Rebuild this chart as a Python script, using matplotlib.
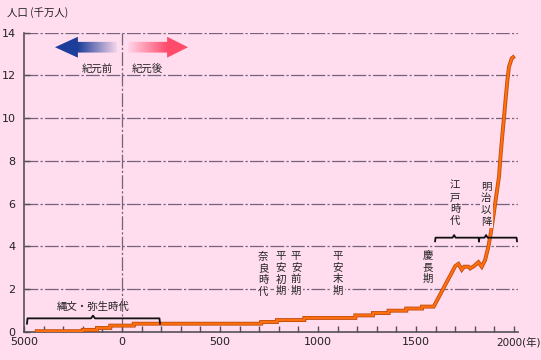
import numpy as np
import matplotlib
matplotlib.use("Agg")
import matplotlib.pyplot as plt
from matplotlib.patches import Polygon

plt.rcParams['font.family'] = ['Noto Sans CJK JP', 'DejaVu Sans']

# ---- data (years: negative = BC; population in 10 million people) ----
step_years = [-4350, -2000, -1280, -600, 60, 710, 790, 930, 1190, 1280, 1360, 1450, 1530, 1590]
step_values = [0.02, 0.08, 0.17, 0.28, 0.37, 0.45, 0.54, 0.64, 0.76, 0.87, 0.98, 1.08, 1.17, 1.17]
modern_years = [1700, 1716, 1733, 1745, 1767, 1776, 1796, 1818, 1835, 1852, 1869, 1881,
                1894, 1911, 1923, 1932, 1940, 1949, 1958, 1966, 1974, 1988, 1995]
modern_values = [3.07, 3.17, 2.90, 3.04, 3.04, 2.96, 3.07, 3.25, 3.04, 3.35, 3.98, 4.60,
                 5.38, 6.48, 7.25, 8.35, 9.20, 10.07, 11.00, 11.78, 12.40, 12.80, 12.85]

xtick_years = [-5000, 0, 500, 1000, 1500, 2000]
xtick_labels = ['5000', '0', '500', '1000', '1500', '']
last_tick_label = '2000(年)'
ytick_values = [0, 2, 4, 6, 8, 10, 12, 14]

era_labels = ['奈良時代', '平安初期', '平安前期', '平安末期', '慶長期', '江戸時代', '明治以降']
era_years = [719, 811, 888, 1102, 1561, 1699, 1857]
era_heights = [2.69, 2.72, 2.72, 2.72, 3.03, 6.0, 5.97]

BG = '#ffdcee'
GRID = '#74647a'


def to_u(year):
    y = np.asarray(year, dtype=float)
    return np.where(y < 0, y / 10.0, y)


fig = plt.figure(figsize=(5.41, 3.60), dpi=100)
fig.patch.set_facecolor(BG)
ax = fig.add_axes([24 / 541, 1 - 331.6 / 360, (518 - 24) / 541, (331.6 - 32.7) / 360])
ax.set_facecolor(BG)

# grid lines
for v in ytick_values[1:]:
    ax.plot([-500, 2020], [v, v], color=GRID, lw=0.9, dashes=(11, 1.8, 1.8, 1.8), zorder=1)
ax.plot([0, 0], [0, 14], color=GRID, lw=0.9, dashes=(11, 1.8, 1.8, 1.8), zorder=1)

# population line
sx = to_u(step_years)
sv = np.asarray(step_values)
xs = [sx[0]]
ys = [sv[0]]
for i in range(1, len(sx)):
    xs += [sx[i], sx[i]]
    ys += [sv[i - 1], sv[i]]
xs = np.concatenate([xs, to_u(modern_years)])
ys = np.concatenate([ys, modern_values])
ax.plot(xs, ys, color='#c04c0c', lw=2.8, zorder=4, solid_joinstyle='miter')
ax.plot(xs, ys, color='#ff6f10', lw=1.6, zorder=5, solid_joinstyle='miter')

# axes styling
ax.set_xlim(-500, 2020)
ax.set_ylim(0, 14)
for s in ['top', 'right']:
    ax.spines[s].set_visible(False)
for s in ['left', 'bottom']:
    ax.spines[s].set_color('#555055')
    ax.spines[s].set_linewidth(1.2)
ax.set_xticks(to_u(xtick_years))
ax.set_xticklabels(xtick_labels)
ax.set_xticks(np.arange(-500, 2001, 100), minor=True)
ax.set_yticks(ytick_values)
ax.set_yticklabels([str(v) for v in ytick_values])
ax.tick_params(axis='both', which='both', direction='in', length=4, width=1, color='#555055',
               labelsize=8, labelcolor='#222222')
ax.tick_params(axis='x', pad=4)
ax.tick_params(axis='y', pad=6)
for lab in ax.get_xticklabels() + ax.get_yticklabels():
    lab.set_family(['DejaVu Sans', 'Noto Sans CJK JP'])

# last tick label "2000(年)" placed as in the reference
ax.annotate(last_tick_label, xy=(to_u([2000])[0], 0), xycoords=('data', 'axes fraction'),
            xytext=(-18, -11), textcoords='offset pixels', ha='left', va='center',
            fontsize=7.5, color='#222222', family=['DejaVu Sans', 'Noto Sans CJK JP'],
            annotation_clip=False)


# gradient arrows
def gradient_arrow(tip, base, tail, yc, shaft_h, head_h, rgb, alpha_tip, alpha_tail):
    verts = [(tip, yc), (base, yc + head_h / 2), (base, yc + shaft_h / 2), (tail, yc + shaft_h / 2),
             (tail, yc - shaft_h / 2), (base, yc - shaft_h / 2), (base, yc - head_h / 2)]
    poly = Polygon(verts, closed=True, facecolor='none', edgecolor='none')
    ax.add_patch(poly)
    x0, x1 = min(tip, tail), max(tip, tail)
    n = 200
    xx = np.linspace(x0, x1, n)
    f = np.abs(xx - tip) / abs(tail - tip)
    fb = abs(base - tip) / abs(tail - tip)
    a = np.where(f <= fb, alpha_tip, alpha_tip + (alpha_tail - alpha_tip) * (f - fb) / (1 - fb))
    img = np.zeros((2, n, 4))
    img[..., 0] = rgb[0]
    img[..., 1] = rgb[1]
    img[..., 2] = rgb[2]
    img[..., 3] = a
    im = ax.imshow(img, extent=[x0, x1, yc - head_h / 2, yc + head_h / 2], aspect='auto',
                   interpolation='bilinear', zorder=3)
    im.set_clip_path(poly)


gradient_arrow(-342, -225, -26, 13.32, 0.5, 0.98, (0.11, 0.24, 0.60), 1.0, 0.05)
gradient_arrow(337, 230, 31, 13.32, 0.5, 0.98, (1.0, 0.30, 0.42), 1.0, 0.05)
ax.set_xlim(-500, 2020)
ax.set_ylim(0, 14)

ax.text(-128, 12.33, '紀元前', ha='center', va='center', fontsize=7.5, color='#222222', zorder=6)
ax.text(128, 12.33, '紀元後', ha='center', va='center', fontsize=7.5, color='#222222', zorder=6)


# brackets
def bracket(x0, x1, peaks, y, down=0.25, up=0.13, dx=8):
    px = [x0, x0 + dx * 0.3]
    py = [y - down, y]
    for p in peaks:
        px += [p - dx, p, p + dx]
        py += [y, y + up, y]
    px += [x1 - dx * 0.3, x1]
    py += [y, y - down]
    ax.plot(px, py, color='#111111', lw=1.3, zorder=6, solid_joinstyle='round')


bracket(-485, 194, [-148], 0.62, down=0.25, up=0.13, dx=10)
bracket(1597, 1821, [1694], 4.4, down=0.17, up=0.12, dx=8)
bracket(1821, 2015, [1857], 4.4, down=0.17, up=0.12, dx=8)
ax.text(-148, 1.15, '縄文・弥生時代', ha='center', va='center', fontsize=7.5, color='#222222', zorder=6)

# vertical era labels
for lab, yr, h in zip(era_labels, era_years, era_heights):
    ax.text(yr, h, '\n'.join(lab), ha='center', va='center', fontsize=7.5, color='#222222',
            linespacing=1.22, zorder=6,
            bbox=dict(facecolor=BG, edgecolor='none', pad=1.0))

fig.text(7 / 541, 1 - 13 / 360, '人口 (千万人)', ha='left', va='center', fontsize=7.5, color='#222222')

fig.savefig('out.png', dpi=100, facecolor=BG)
